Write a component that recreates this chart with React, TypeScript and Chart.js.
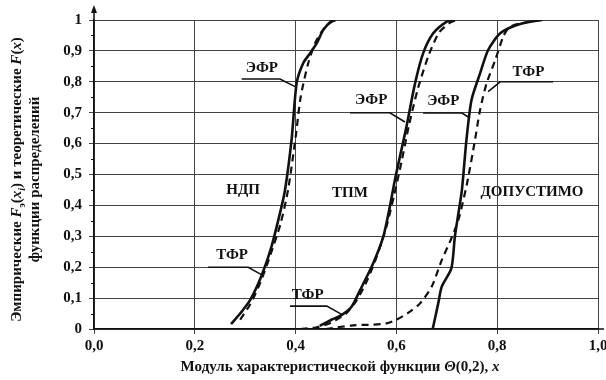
import React, { useEffect, useRef } from "react";
import { Chart, registerables } from "chart.js";

Chart.register(...registerables);

// Empirical (solid) and theoretical (dashed) distribution functions, x = |Θ(0,2)|
const ndpEmpX = [0.272, 0.29, 0.31, 0.333, 0.352, 0.369, 0.379, 0.392, 0.402, 0.415, 0.429, 0.442, 0.455, 0.472, 0.48];
const ndpEmpY = [0.016, 0.05, 0.094, 0.175, 0.266, 0.375, 0.45, 0.612, 0.795, 0.86, 0.893, 0.925, 0.968, 0.998, 1.0];
const ndpTheoX = [0.29, 0.31, 0.33, 0.35, 0.37, 0.385, 0.4, 0.41, 0.425, 0.44, 0.46, 0.478];
const ndpTheoY = [0.03, 0.08, 0.15, 0.24, 0.34, 0.45, 0.62, 0.75, 0.86, 0.93, 0.98, 1.0];

const tpmEmpX = [0.448, 0.471, 0.491, 0.511, 0.528, 0.554, 0.574, 0.587, 0.597, 0.607, 0.62, 0.637, 0.653, 0.673, 0.7, 0.715];
const tpmEmpY = [0.01, 0.03, 0.045, 0.072, 0.126, 0.213, 0.299, 0.396, 0.482, 0.558, 0.655, 0.795, 0.892, 0.957, 0.995, 1.0];
const tpmTheoX = [0.41, 0.44, 0.47, 0.5, 0.52, 0.54, 0.56, 0.58, 0.595, 0.61, 0.625, 0.643, 0.665, 0.685, 0.705, 0.72];
const tpmTheoY = [0.0, 0.005, 0.02, 0.05, 0.09, 0.15, 0.23, 0.33, 0.43, 0.54, 0.66, 0.78, 0.89, 0.96, 0.99, 1.0];

const dopEmpX = [0.672, 0.683, 0.69, 0.709, 0.716, 0.723, 0.73, 0.739, 0.749, 0.766, 0.782, 0.806, 0.839, 0.885];
const dopEmpY = [0.0, 0.083, 0.137, 0.196, 0.299, 0.374, 0.45, 0.612, 0.741, 0.827, 0.903, 0.957, 0.984, 1.0];
const dopTheoX = [0.46, 0.514, 0.554, 0.58, 0.6, 0.627, 0.647, 0.67, 0.69, 0.709, 0.723, 0.74, 0.756, 0.766, 0.779, 0.796, 0.812, 0.825, 0.865, 0.89];
const dopTheoY = [0.0, 0.012, 0.014, 0.018, 0.03, 0.056, 0.083, 0.137, 0.223, 0.293, 0.353, 0.47, 0.612, 0.709, 0.795, 0.87, 0.946, 0.978, 0.995, 1.0];

// Axis ranges and tick steps
const xRange = [0, 1];
const yRange = [0, 1];
const xStep = 0.2;
const yStep = 0.1;

// Curve captions with leader lines (data coordinates)
const captionText = ["ЭФР", "ЭФР", "ЭФР", "ТФР", "ТФР", "ТФР"];
const captionAt = [
  [0.333, 0.845], [0.55, 0.741], [0.693, 0.736],
  [0.862, 0.832], [0.274, 0.239], [0.424, 0.11],
];
const leaders = [
  [[0.293, 0.809], [0.369, 0.809], [0.402, 0.782]],
  [[0.508, 0.7], [0.587, 0.7], [0.617, 0.67]],
  [[0.653, 0.699], [0.73, 0.699], [0.746, 0.683]],
  [[0.911, 0.8], [0.806, 0.8], [0.782, 0.768]],
  [[0.226, 0.2], [0.306, 0.2], [0.333, 0.175]],
  [[0.389, 0.074], [0.462, 0.074], [0.494, 0.045]],
];
// Region names
const regionText = ["НДП", "ТПМ", "ДОПУСТИМО"];
const regionAt = [[0.296, 0.45], [0.508, 0.44], [0.869, 0.443]];

const SERIF = '"Liberation Serif", "Times New Roman", serif';
const INK = "#111";

const pts = (xs: number[], ys: number[]) => xs.map((x, i) => ({ x, y: ys[i] }));
const comma = (v: number, d: number) => v.toFixed(d).replace(".", ",");

type Seg = { t: string; it?: boolean; sub?: boolean };

function drawRich(ctx: CanvasRenderingContext2D, segs: Seg[], size: number, cx: number, cy: number) {
  const fontOf = (s: Seg) =>
    `${s.it ? "italic " : ""}bold ${s.sub ? Math.round(size * 0.65) : size}px ${SERIF}`;
  let total = 0;
  const widths = segs.map((s) => {
    ctx.font = fontOf(s);
    const w = ctx.measureText(s.t).width;
    total += w;
    return w;
  });
  let x = cx - total / 2;
  ctx.textBaseline = "alphabetic";
  ctx.textAlign = "left";
  segs.forEach((s, i) => {
    ctx.font = fontOf(s);
    ctx.fillText(s.t, x, cy + size * 0.35 + (s.sub ? size * 0.25 : 0));
    x += widths[i];
  });
}

const yTitle1: Seg[] = [
  { t: "Эмпирические " }, { t: "F", it: true }, { t: "э", sub: true },
  { t: "(" }, { t: "x", it: true }, { t: "i", sub: true, it: true },
  { t: ") и теоретические " }, { t: "F", it: true }, { t: "(" }, { t: "x", it: true }, { t: ")" },
];
const yTitle2: Seg[] = [{ t: "функции распределений" }];
const xTitle: Seg[] = [
  { t: "Модуль характеристической функции " }, { t: "Θ", it: true },
  { t: "(0,2), " }, { t: "x", it: true },
];

const decorPlugin = {
  id: "decor",
  afterDraw(chart: any) {
    const { ctx, chartArea: a, scales } = chart;
    const xs = scales.x;
    const ys = scales.y;
    ctx.save();
    ctx.fillStyle = INK;
    ctx.strokeStyle = INK;

    // axis arrows
    ctx.lineWidth = 1.5;
    ctx.beginPath();
    ctx.moveTo(a.left, a.top);
    ctx.lineTo(a.left, a.top - 10);
    ctx.moveTo(a.right, a.bottom);
    ctx.lineTo(a.right + 6, a.bottom);
    ctx.stroke();
    ctx.beginPath();
    ctx.moveTo(a.left, a.top - 15);
    ctx.lineTo(a.left - 3, a.top - 7);
    ctx.lineTo(a.left + 3, a.top - 7);
    ctx.closePath();
    ctx.fill();

    // minor ticks on the y axis
    ctx.lineWidth = 1.2;
    ctx.beginPath();
    for (let v = yRange[0] + yStep / 2; v < yRange[1]; v += yStep) {
      const py = Math.round(ys.getPixelForValue(v)) + 0.5;
      ctx.moveTo(a.left - 3, py);
      ctx.lineTo(a.left, py);
    }
    ctx.stroke();

    // leader lines
    ctx.lineWidth = 1.6;
    leaders.forEach((ln) => {
      ctx.beginPath();
      ln.forEach(([x, y], i) => {
        const px = xs.getPixelForValue(x);
        const py = ys.getPixelForValue(y);
        if (i === 0) ctx.moveTo(px, py);
        else ctx.lineTo(px, py);
      });
      ctx.stroke();
    });

    // captions
    ctx.font = `bold 15px ${SERIF}`;
    ctx.textAlign = "center";
    ctx.textBaseline = "middle";
    captionText.forEach((t, i) => {
      ctx.fillText(t, xs.getPixelForValue(captionAt[i][0]), ys.getPixelForValue(captionAt[i][1]));
    });
    regionText.forEach((t, i) => {
      ctx.fillText(t, xs.getPixelForValue(regionAt[i][0]), ys.getPixelForValue(regionAt[i][1]));
    });

    // axis titles
    drawRich(ctx, xTitle, 15, (a.left + a.right) / 2 - 6, 366);
    ctx.save();
    ctx.translate(16, (a.top + a.bottom) / 2 + 5);
    ctx.rotate(-Math.PI / 2);
    drawRich(ctx, yTitle1, 15, 0, 0);
    ctx.restore();
    ctx.save();
    ctx.translate(34, (a.top + a.bottom) / 2 + 5);
    ctx.rotate(-Math.PI / 2);
    drawRich(ctx, yTitle2, 15, 0, 0);
    ctx.restore();
    ctx.restore();
  },
};

export default function App() {
  const ref = useRef<HTMLCanvasElement | null>(null);

  useEffect(() => {
    if (!ref.current) return;
    const solid = (data: { x: number; y: number }[]) => ({
      data,
      borderColor: INK,
      borderWidth: 2.6,
      pointRadius: 0,
      tension: 0.25,
      fill: false,
    });
    const dashed = (data: { x: number; y: number }[]) => ({
      data,
      borderColor: INK,
      borderWidth: 2.2,
      borderDash: [7, 5],
      pointRadius: 0,
      tension: 0.25,
      fill: false,
    });
    const chart = new Chart(ref.current, {
      type: "line",
      data: {
        datasets: [
          dashed(pts(ndpTheoX, ndpTheoY)),
          solid(pts(ndpEmpX, ndpEmpY)),
          dashed(pts(tpmTheoX, tpmTheoY)),
          solid(pts(tpmEmpX, tpmEmpY)),
          dashed(pts(dopTheoX, dopTheoY)),
          solid(pts(dopEmpX, dopEmpY)),
        ],
      },
      options: {
        animation: false,
        responsive: false,
        events: [],
        layout: { padding: { top: 20, right: 8, left: 0, bottom: 0 } },
        plugins: { legend: { display: false }, tooltip: { enabled: false } },
        scales: {
          x: {
            type: "linear",
            min: xRange[0],
            max: xRange[1],
            afterFit: (s: any) => {
              s.height = 51;
              s.paddingLeft = 0;
              s.paddingRight = 0;
            },
            ticks: {
              stepSize: xStep,
              padding: 3,
              color: INK,
              font: { family: SERIF, size: 15, weight: "bold" },
              callback: (v: any) => comma(Number(v), 1),
              maxRotation: 0,
            },
            grid: { color: "#444", lineWidth: 1, tickLength: 5 },
            border: { color: INK, width: 1.6 },
          },
          y: {
            type: "linear",
            min: yRange[0],
            max: yRange[1],
            afterFit: (s: any) => {
              s.width = 94;
              s.paddingTop = 0;
              s.paddingBottom = 0;
            },
            ticks: {
              stepSize: yStep,
              padding: 7,
              color: INK,
              font: { family: SERIF, size: 15, weight: "bold" },
              callback: (v: any) => {
                const n = Number(v);
                if (Math.abs(n) < 1e-9) return "0";
                if (Math.abs(n - 1) < 1e-9) return "1";
                return comma(n, 1);
              },
            },
            grid: { color: "#444", lineWidth: 1, tickLength: 5 },
            border: { color: INK, width: 1.6 },
          },
        },
      },
      plugins: [decorPlugin],
    });
    return () => chart.destroy();
  }, []);

  return (
    <div style={{ position: "fixed", left: 0, top: 0, width: 606, height: 380, background: "#fff" }}>
      <canvas ref={ref} width={606} height={380} />
    </div>
  );
}
